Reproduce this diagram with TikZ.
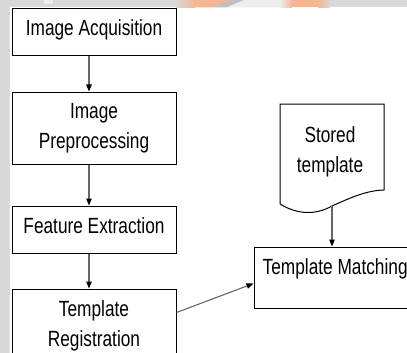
\documentclass[tikz,border=0pt]{standalone}
\usepackage{fontspec}
\setmainfont[FakeStretch=0.785]{Liberation Sans}
\usetikzlibrary{arrows.meta}
\definecolor{strip}{RGB}{217,217,217}
\definecolor{peach}{RGB}{245,182,148}
\definecolor{slash}{RGB}{192,192,192}
\definecolor{pale}{RGB}{238,238,238}
\begin{document}
\begin{tikzpicture}[x=1pt,y=-1pt,
  lbl/.style={font=\fontsize{22}{29.5}\selectfont},
  box/.style={lbl,draw=black,line width=1pt,minimum width=164pt,inner sep=2pt,align=center},
  oneline/.style={text height=16pt,text depth=8pt},
  conn/.style={draw=black!60,line width=1.1pt,-{Triangle[length=7pt,width=5.5pt,color=black]}}]
\useasboundingbox (0,0) rectangle (407,353);
\clip (0,0) rectangle (407,353);
\fill[white] (0,0) rectangle (407,353);
% grey page edges with watermark fragments
\fill[strip] (0,0) rectangle (10,353);
\fill[strip] (0,0) rectangle (407,7.3);
\fill[pale] (44,0) rectangle (53,4);
\shade[left color=strip,right color=peach] (176,0) rectangle (195,7.3);
\fill[peach] (195,0) -- (230,0) -- (213,7.3) -- (195,7.3) -- cycle;
\fill[slash] (213,7.3) -- (227,7.3) -- (244,0) -- (230,0) -- cycle;
\fill[pale] (244,0) -- (280,0) -- (280,7.3) -- (227,7.3) -- cycle;
\shade[left color=pale,right color=peach] (280,0) rectangle (292,7.3);
\fill[peach] (292,0) rectangle (318,7.3);
\shade[left color=peach,right color=strip] (318,0) rectangle (330,7.3);
% left column
\node[box,oneline,minimum height=47.4pt] (acq) at (94,32) {Image Acquisition};
\node[box,minimum height=72pt] (pre) at (94,128) {Image\\Preprocessing};
\node[box,oneline,minimum height=47pt] (feat) at (94,229.5) {Feature Extraction};
\node[box,minimum height=74pt] (reg) at (94,326) {Template\\Registration};
% stored template (document shape)
\draw[black,line width=1pt] (280,104) -- (280,204)
  .. controls (298,215) and (316,215) .. (332,206)
  .. controls (350,198) and (366,190.5) .. (384,190) -- (384,104) -- cycle;
\coordinate (docb) at (332,206);
\node[lbl,align=center,inner sep=0pt] (stored) at (330,152) {Stored\\template};
% template matching
\node[lbl,draw=black,line width=1pt,minimum width=170pt,minimum height=61pt,
  text width=152.6pt,inner xsep=8.7pt,align=flush left,text height=16pt,text depth=23pt]
  (match) at (339,277.5) {Template Matching};
% connectors
\draw[conn] ([xshift=-5pt]acq.south) -- ([xshift=-5pt]pre.north);
\draw[conn] ([xshift=-5pt]pre.south) -- ([xshift=-5pt]feat.north);
\draw[conn] ([xshift=-5pt]feat.south) -- ([xshift=-5pt]reg.north);
\draw[conn] (docb) -- (docb |- match.north);
\draw[conn] ([yshift=-24pt]reg.north east) -- ([yshift=-37pt]match.north west);
\end{tikzpicture}
\end{document}
